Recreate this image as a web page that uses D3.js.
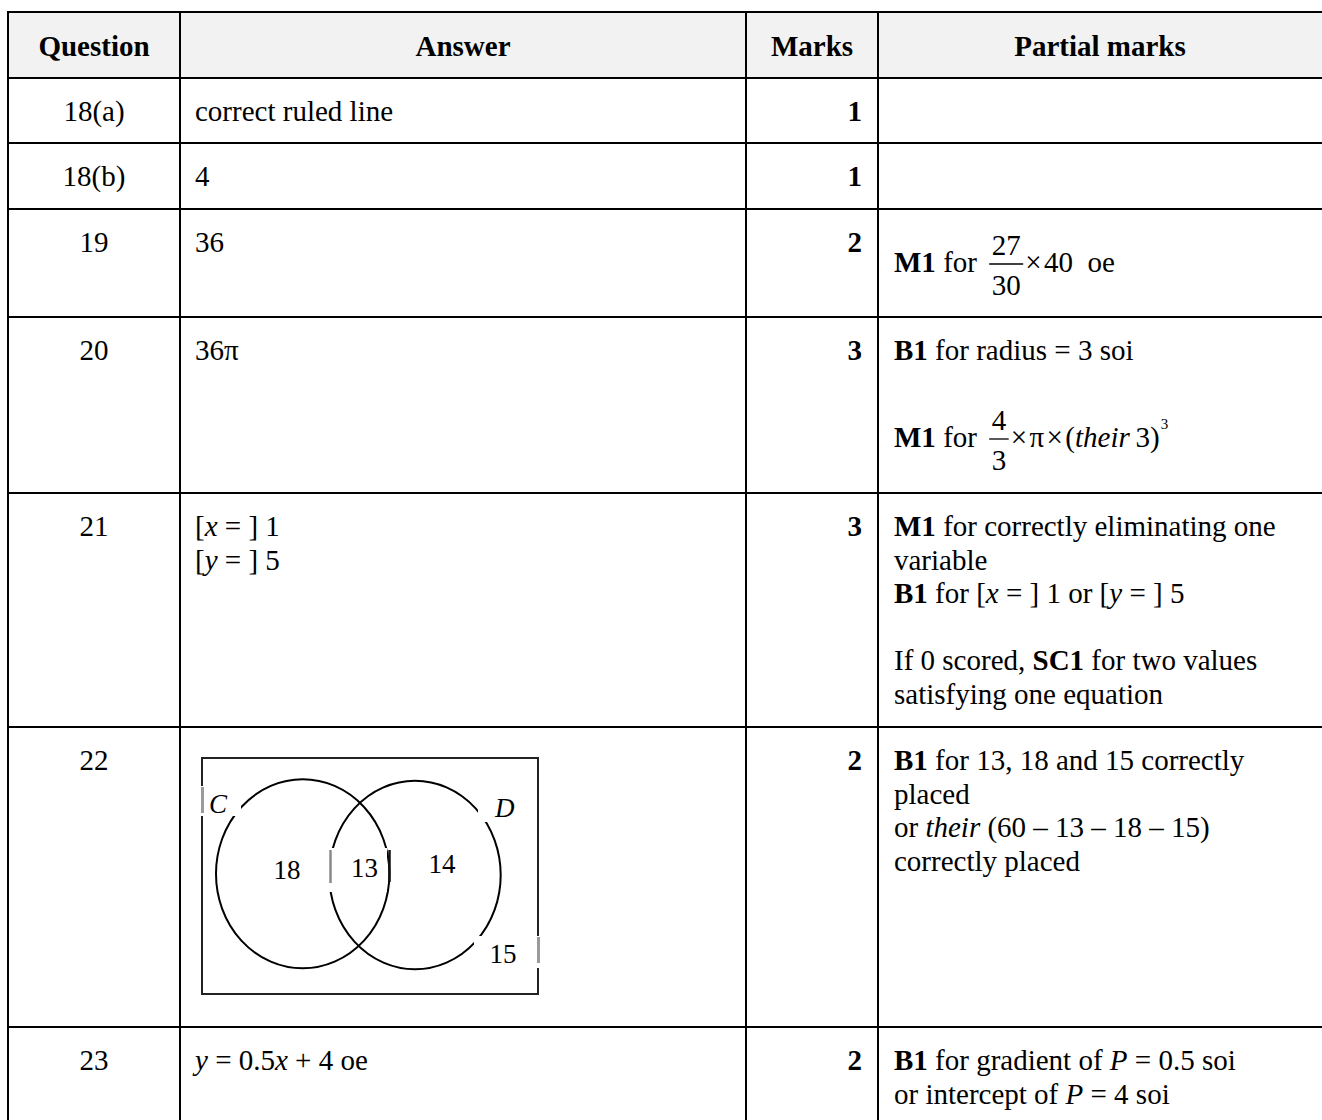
<!doctype html>
<html>
<head>
  <meta charset="utf-8">
  <title>Mark scheme, questions 18 to 23</title>
  <script src="https://cdn.jsdelivr.net/npm/d3@7"></script>
  <style>
    body { margin: 0; background: #fff; }
    svg text { font-family: "Liberation Serif", "Times New Roman", serif; fill: #000; white-space: pre; }
  </style>
</head>
<body>
<div id="chart"></div>
<script>
// ---- table content ----
var columns = ["Question", "Answer", "Marks", "Partial marks"];
var questions = ["18(a)", "18(b)", "19", "20", "21", "22", "23"];
var marks = [1, 1, 2, 3, 3, 2, 2];

// each cell is a list of lines, each line a list of segments
// b = bold, i = italic, f = fraction [num, den], s = superscript
var answers = [
  [[{t: "correct ruled line"}]],
  [[{t: "4"}]],
  [[{t: "36"}]],
  [[{t: "36π"}]],
  [[{t: "["}, {t: "x", i: 1}, {t: " = ] 1"}],
   [{t: "["}, {t: "y", i: 1}, {t: " = ] 5"}]],
  [],   // venn diagram
  [[{t: "y", i: 1}, {t: " = 0.5"}, {t: "x", i: 1}, {t: " + 4 oe"}]]
];

var partials = [
  [],
  [],
  [[{t: "M1", b: 1}, {t: " for "}, {f: ["27", "30"]}, {t: "×\u200A40  oe"}]],
  [[{t: "B1", b: 1}, {t: " for radius = 3 soi"}],
   [],
   [{t: "M1", b: 1}, {t: " for "}, {f: ["4", "3"]}, {t: "×\u200Aπ\u200A×\u200A("}, {t: "their", i: 1}, {t: "\u20093)"}, {s: "3"}]],
  [[{t: "M1", b: 1}, {t: " for correctly eliminating one"}],
   [{t: "variable"}],
   [{t: "B1", b: 1}, {t: " for ["}, {t: "x", i: 1}, {t: " = ] 1 or ["}, {t: "y", i: 1}, {t: " = ] 5"}],
   [],
   [{t: "If 0 scored, "}, {t: "SC1", b: 1}, {t: " for two values"}],
   [{t: "satisfying one equation"}]],
  [[{t: "B1", b: 1}, {t: " for 13, 18 and 15 correctly"}],
   [{t: "placed"}],
   [{t: "or "}, {t: "their", i: 1}, {t: " (60 – 13 – 18 – 15)"}],
   [{t: "correctly placed"}]],
  [[{t: "B1", b: 1}, {t: " for gradient of "}, {t: "P", i: 1}, {t: " = 0.5 soi"}],
   [{t: "or intercept of "}, {t: "P", i: 1}, {t: " = 4 soi"}]]
];

// venn diagram for question 22
var vennSets = ["C", "D"];
var vennRegions = ["C only", "C and D", "D only", "neither"];
var vennValues = [18, 13, 14, 15];

// ---- layout ----
var W = 1322, H = 1120;
var fs = 29, lineH = 33.5, fracExtra = 20;

var svg = d3.select("#chart").append("svg")
  .attr("width", W).attr("height", H);

var colX = d3.scaleOrdinal().domain(columns).range([8, 180, 746, 878]);
var colR = d3.scaleOrdinal().domain(columns).range([180, 746, 878, 1322]);
var rowKeys = ["header"].concat(questions);
var rowY = d3.scaleOrdinal().domain(rowKeys).range([12, 78, 143, 209, 317, 493, 727, 1027]);

// header background
svg.append("rect")
  .attr("x", colX("Question")).attr("y", rowY("header"))
  .attr("width", W - colX("Question")).attr("height", rowY(questions[0]) - rowY("header"))
  .attr("fill", "#f2f2f2");

function seg(g, x, y, s, size) {
  var t = g.append("text")
    .attr("xml:space", "preserve")
    .attr("x", x).attr("y", y)
    .style("font-size", size + "px")
    .style("font-weight", s.b ? "bold" : null)
    .style("font-style", s.i ? "italic" : null)
    .text(s.t);
  return t.node().getComputedTextLength();
}

function richLine(g, x, y, segs) {
  var cx = x;
  segs.forEach(function(s) {
    if (s.f) {
      var num = g.append("text").attr("y", y - 17).style("font-size", fs + "px")
        .attr("text-anchor", "middle").text(s.f[0]);
      var den = g.append("text").attr("y", y + 23).style("font-size", fs + "px")
        .attr("text-anchor", "middle").text(s.f[1]);
      var w = Math.max(num.node().getComputedTextLength(), den.node().getComputedTextLength()) + 5;
      num.attr("x", cx + 5 + w / 2);
      den.attr("x", cx + 5 + w / 2);
      g.append("line")
        .attr("x1", cx + 5).attr("x2", cx + 5 + w)
        .attr("y1", y - 8).attr("y2", y - 8)
        .attr("stroke", "#000").attr("stroke-width", 1.3);
      cx += w + 7;
    } else if (s.s) {
      cx += seg(g, cx + 1, y - 18, {t: s.s}, 15);
    } else {
      cx += seg(g, cx, y, s, fs);
    }
  });
}

function richCell(g, x, top, lines) {
  var y = top + 43;
  lines.forEach(function(line, k) {
    var hasFrac = line.some(function(s) { return s.f; });
    if (k > 0) y += lineH;
    if (hasFrac) y += fracExtra;
    richLine(g, x, y, line);
  });
}

// header texts
var head = svg.append("g");
columns.forEach(function(c) {
  head.append("text")
    .attr("x", (colX(c) + colR(c)) / 2)
    .attr("y", rowY("header") + 44)
    .attr("text-anchor", "middle")
    .style("font-size", fs + "px").style("font-weight", "bold")
    .text(c);
});

// body rows
var body = svg.append("g");
questions.forEach(function(q, i) {
  var top = rowY(q);
  body.append("text")
    .attr("x", (colX("Question") + colR("Question")) / 2)
    .attr("y", top + 43)
    .attr("text-anchor", "middle")
    .style("font-size", fs + "px")
    .text(q);
  richCell(body, colX("Answer") + 15, top, answers[i]);
  body.append("text")
    .attr("x", colR("Marks") - 16)
    .attr("y", top + 43)
    .attr("text-anchor", "end")
    .style("font-size", fs + "px").style("font-weight", "bold")
    .text(marks[i]);
  richCell(body, colX("Partial marks") + 16, top, partials[i]);
});

// ---- venn diagram (question 22) ----
var vx = d3.scaleLinear().domain([0, 336]).range([202, 538]);
var vy = d3.scaleLinear().domain([0, 236]).range([758, 994]);
var venn = svg.append("g");

venn.append("rect")
  .attr("x", vx(0)).attr("y", vy(0))
  .attr("width", vx(336) - vx(0)).attr("height", vy(236) - vy(0))
  .attr("fill", "none").attr("stroke", "#222").attr("stroke-width", 2);

var ellipses = [
  {cx: 100.7, cy: 115.8, rx: 86.7, ry: 94.5},
  {cx: 213, cy: 117, rx: 85.7, ry: 94.3}
];
venn.selectAll("ellipse.set").data(ellipses).enter().append("ellipse")
  .attr("class", "set")
  .attr("cx", function(d) { return vx(d.cx); })
  .attr("cy", function(d) { return vy(d.cy); })
  .attr("rx", function(d) { return d.rx; })
  .attr("ry", function(d) { return d.ry; })
  .attr("fill", "none").attr("stroke", "#000").attr("stroke-width", 2);

// label boxes from the original scan: white patches with stray edges
var patches = [
  {x: -3, y: 28, w: 42, h: 30, edges: [{x: 0.5, y1: 29, y2: 55, c: "#9a9a9a", sw: 3}]},
  {x: 126, y: 90, w: 59, h: 44, edges: [{x: 128.5, y1: 92, y2: 125, c: "#8a8a8a", sw: 2.5},
                                        {x: 187.5, y1: 92, y2: 124, c: "#111", sw: 2.5}]},
  {x: 276, y: 48, w: 47, h: 16, edges: []},
  {x: 272, y: 178, w: 67, h: 32, edges: [{x: 336.5, y1: 179, y2: 205, c: "#9a9a9a", sw: 3}]}
];
patches.forEach(function(p) {
  venn.append("rect")
    .attr("x", vx(p.x)).attr("y", vy(p.y))
    .attr("width", p.w).attr("height", p.h)
    .attr("fill", "#fff");
  p.edges.forEach(function(e) {
    venn.append("line")
      .attr("x1", vx(e.x)).attr("x2", vx(e.x))
      .attr("y1", vy(e.y1)).attr("y2", vy(e.y2))
      .attr("stroke", e.c).attr("stroke-width", e.sw);
  });
});

var setLabelPos = [{x: 7, y: 55}, {x: 293, y: 59}];
vennSets.forEach(function(s, i) {
  venn.append("text")
    .attr("x", vx(setLabelPos[i].x)).attr("y", vy(setLabelPos[i].y))
    .style("font-size", "27px").style("font-style", "italic")
    .text(s);
});

var regionPos = [{x: 85, y: 121}, {x: 162.5, y: 119}, {x: 240, y: 115}, {x: 301, y: 205}];
vennRegions.forEach(function(r, i) {
  venn.append("text")
    .attr("x", vx(regionPos[i].x)).attr("y", vy(regionPos[i].y))
    .attr("text-anchor", "middle")
    .style("font-size", "27px")
    .text(vennValues[i]);
});

// ---- grid lines ----
var grid = svg.append("g").attr("stroke", "#000").attr("stroke-width", 2);
rowKeys.forEach(function(k) {
  grid.append("line")
    .attr("x1", colX("Question") - 1).attr("x2", W)
    .attr("y1", rowY(k)).attr("y2", rowY(k));
});
columns.forEach(function(c) {
  grid.append("line")
    .attr("x1", colX(c)).attr("x2", colX(c))
    .attr("y1", rowY("header")).attr("y2", H);
});
</script>
</body>
</html>
